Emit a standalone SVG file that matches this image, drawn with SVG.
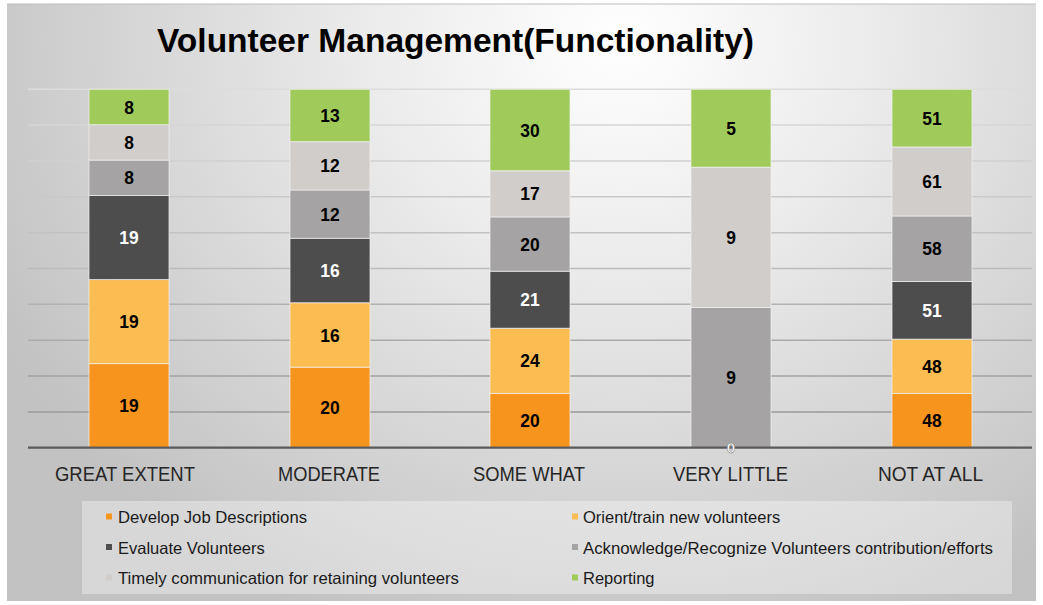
<svg xmlns="http://www.w3.org/2000/svg" width="1043" height="605" viewBox="0 0 1043 605">
<defs>
<radialGradient id="bg" cx="620" cy="40" r="700" gradientUnits="userSpaceOnUse" gradientTransform="translate(620 40) scale(1 0.9) translate(-620 -40)">
<stop offset="0" stop-color="#ffffff"/>
<stop offset="0.35" stop-color="#ececec"/>
<stop offset="1" stop-color="#c2c2c2"/>
</radialGradient>
</defs>
<style>
.title{font-family:"Liberation Sans",Arial,sans-serif;font-weight:bold;font-size:33px;fill:#000}
.cat{font-family:"Liberation Sans",Arial,sans-serif;font-size:20.5px;fill:#262626;text-anchor:middle}
.lbl{font-family:"Liberation Sans",Arial,sans-serif;font-weight:bold;font-size:18.5px;fill:#000;text-anchor:middle}
.lblw{font-family:"Liberation Sans",Arial,sans-serif;font-weight:bold;font-size:18.5px;fill:#fff;text-anchor:middle}
.leg{font-family:"Liberation Sans",Arial,sans-serif;font-size:16.5px;fill:#1a1a1a}
.seg{stroke:#f2f2f2;stroke-width:1;stroke-opacity:0.7}
.c1{fill:#f7941e}.c2{fill:#fbbc52}.c3{fill:#4d4d4d}.c4{fill:#a5a3a3}.c5{fill:#d1cdca}.c6{fill:#a0cb5a}
</style>
<rect x="7" y="4" width="1029" height="597" fill="url(#bg)"/>
<line x1="7" y1="4" x2="1036" y2="4" stroke="#bdbdbd" stroke-width="1"/>
<text class="title" x="157" y="52" textLength="597" lengthAdjust="spacingAndGlyphs">Volunteer Management(Functionality)</text>
<g id="gridlines" stroke-width="1.5">
<line x1="28" y1="89.3" x2="1032" y2="89.3" stroke="#dcdcdc"/>
<line x1="28" y1="125.1" x2="1032" y2="125.1" stroke="#d6d6d6"/>
<line x1="28" y1="161" x2="1032" y2="161" stroke="#d0d0d0"/>
<line x1="28" y1="196.8" x2="1032" y2="196.8" stroke="#c9c9c9"/>
<line x1="28" y1="232.7" x2="1032" y2="232.7" stroke="#c2c2c2"/>
<line x1="28" y1="268.5" x2="1032" y2="268.5" stroke="#bbbbbb"/>
<line x1="28" y1="304.3" x2="1032" y2="304.3" stroke="#b2b2b2"/>
<line x1="28" y1="340.2" x2="1032" y2="340.2" stroke="#aaaaaa"/>
<line x1="28" y1="376" x2="1032" y2="376" stroke="#a2a2a2"/>
<line x1="28" y1="411.9" x2="1032" y2="411.9" stroke="#9a9a9a"/>
</g>
<g id="bar-great-extent">
<rect class="seg c1" x="89" y="363.63" width="80" height="84.07"/>
<rect class="seg c2" x="89" y="279.56" width="80" height="84.07"/>
<rect class="seg c3" x="89" y="195.49" width="80" height="84.07"/>
<rect class="seg c4" x="89" y="160.09" width="80" height="35.4"/>
<rect class="seg c5" x="89" y="124.69" width="80" height="35.4"/>
<rect class="seg c6" x="89" y="89.3" width="80" height="35.39"/>
<text class="lbl" x="129" y="412.3" textLength="19.4" lengthAdjust="spacingAndGlyphs">19</text>
<text class="lbl" x="129" y="328.2" textLength="19.4" lengthAdjust="spacingAndGlyphs">19</text>
<text class="lblw" x="129" y="244.1" textLength="19.4" lengthAdjust="spacingAndGlyphs">19</text>
<text class="lbl" x="129" y="184.4" textLength="9.7" lengthAdjust="spacingAndGlyphs">8</text>
<text class="lbl" x="129" y="149" textLength="9.7" lengthAdjust="spacingAndGlyphs">8</text>
<text class="lbl" x="129" y="113.6" textLength="9.7" lengthAdjust="spacingAndGlyphs">8</text>
</g>
<g id="bar-moderate">
<rect class="seg c1" x="290" y="367.16" width="80" height="80.54"/>
<rect class="seg c2" x="290" y="302.73" width="80" height="64.43"/>
<rect class="seg c3" x="290" y="238.3" width="80" height="64.43"/>
<rect class="seg c4" x="290" y="189.98" width="80" height="48.32"/>
<rect class="seg c5" x="290" y="141.66" width="80" height="48.32"/>
<rect class="seg c6" x="290" y="89.3" width="80" height="52.36"/>
<text class="lbl" x="330" y="414" textLength="19.4" lengthAdjust="spacingAndGlyphs">20</text>
<text class="lbl" x="330" y="341.5" textLength="19.4" lengthAdjust="spacingAndGlyphs">16</text>
<text class="lblw" x="330" y="277.1" textLength="19.4" lengthAdjust="spacingAndGlyphs">16</text>
<text class="lbl" x="330" y="220.7" textLength="19.4" lengthAdjust="spacingAndGlyphs">12</text>
<text class="lbl" x="330" y="172.4" textLength="19.4" lengthAdjust="spacingAndGlyphs">12</text>
<text class="lbl" x="330" y="122.1" textLength="19.4" lengthAdjust="spacingAndGlyphs">13</text>
</g>
<g id="bar-some-what">
<rect class="seg c1" x="490" y="393.4" width="80" height="54.3"/>
<rect class="seg c2" x="490" y="328.24" width="80" height="65.16"/>
<rect class="seg c3" x="490" y="271.22" width="80" height="57.02"/>
<rect class="seg c4" x="490" y="216.92" width="80" height="54.3"/>
<rect class="seg c5" x="490" y="170.76" width="80" height="46.16"/>
<rect class="seg c6" x="490" y="89.3" width="80" height="81.46"/>
<text class="lbl" x="530" y="427.1" textLength="19.4" lengthAdjust="spacingAndGlyphs">20</text>
<text class="lbl" x="530" y="367.4" textLength="19.4" lengthAdjust="spacingAndGlyphs">24</text>
<text class="lblw" x="530" y="306.3" textLength="19.4" lengthAdjust="spacingAndGlyphs">21</text>
<text class="lbl" x="530" y="250.7" textLength="19.4" lengthAdjust="spacingAndGlyphs">20</text>
<text class="lbl" x="530" y="200.4" textLength="19.4" lengthAdjust="spacingAndGlyphs">17</text>
<text class="lbl" x="530" y="136.6" textLength="19.4" lengthAdjust="spacingAndGlyphs">30</text>
</g>
<g id="bar-very-little">
<rect class="seg c4" x="691" y="307.45" width="80" height="140.25"/>
<rect class="seg c5" x="691" y="167.2" width="80" height="140.25"/>
<rect class="seg c6" x="691" y="89.3" width="80" height="77.9"/>
<text class="lbl" x="731" y="384.2" textLength="9.7" lengthAdjust="spacingAndGlyphs">9</text>
<text class="lbl" x="731" y="243.9" textLength="9.7" lengthAdjust="spacingAndGlyphs">9</text>
<text class="lbl" x="731" y="134.8" textLength="9.7" lengthAdjust="spacingAndGlyphs">5</text>
</g>
<g id="bar-not-at-all">
<rect class="seg c1" x="892" y="393.43" width="80" height="54.27"/>
<rect class="seg c2" x="892" y="339.16" width="80" height="54.27"/>
<rect class="seg c3" x="892" y="281.5" width="80" height="57.66"/>
<rect class="seg c4" x="892" y="215.93" width="80" height="65.57"/>
<rect class="seg c5" x="892" y="146.96" width="80" height="68.97"/>
<rect class="seg c6" x="892" y="89.3" width="80" height="57.66"/>
<text class="lbl" x="932" y="427.2" textLength="19.4" lengthAdjust="spacingAndGlyphs">48</text>
<text class="lbl" x="932" y="372.9" textLength="19.4" lengthAdjust="spacingAndGlyphs">48</text>
<text class="lblw" x="932" y="316.9" textLength="19.4" lengthAdjust="spacingAndGlyphs">51</text>
<text class="lbl" x="932" y="255.3" textLength="19.4" lengthAdjust="spacingAndGlyphs">58</text>
<text class="lbl" x="932" y="188" textLength="19.4" lengthAdjust="spacingAndGlyphs">61</text>
<text class="lbl" x="932" y="124.7" textLength="19.4" lengthAdjust="spacingAndGlyphs">51</text>
</g>
<g id="axis">
<line x1="28" y1="447.7" x2="1032" y2="447.7" stroke="#5a5a5a" stroke-width="2.2"/>
</g>
<text class="lblw" x="731" y="452.5" style="font-size:15px" stroke="#7a7a7a" stroke-width="0.5">0</text>
<g id="categories">
<text class="cat" x="125" y="481" textLength="140" lengthAdjust="spacingAndGlyphs">GREAT EXTENT</text>
<text class="cat" x="329" y="481" textLength="102" lengthAdjust="spacingAndGlyphs">MODERATE</text>
<text class="cat" x="529" y="481" textLength="112" lengthAdjust="spacingAndGlyphs">SOME WHAT</text>
<text class="cat" x="730.5" y="481" textLength="115" lengthAdjust="spacingAndGlyphs">VERY LITTLE</text>
<text class="cat" x="930.5" y="481" textLength="105" lengthAdjust="spacingAndGlyphs">NOT AT ALL</text>
</g>
<g id="legend">
<rect x="82" y="501" width="930" height="93" fill="#ffffff" fill-opacity="0.35"/>
<g id="legend-develop"><rect class="c1" x="106" y="513.5" width="6" height="6"/><text class="leg" x="118" y="523" textLength="189" lengthAdjust="spacingAndGlyphs">Develop Job Descriptions</text></g>
<g id="legend-evaluate"><rect class="c3" x="106" y="544" width="6" height="6"/><text class="leg" x="118" y="553.5">Evaluate Volunteers</text></g>
<g id="legend-timely"><rect class="c5" x="106" y="574.5" width="6" height="6"/><text class="leg" x="118" y="584" textLength="341" lengthAdjust="spacingAndGlyphs">Timely communication for retaining volunteers</text></g>
<g id="legend-orient"><rect class="c2" x="572" y="513.5" width="6" height="6"/><text class="leg" x="583" y="523">Orient/train new volunteers</text></g>
<g id="legend-acknowledge"><rect class="c4" x="572" y="544" width="6" height="6"/><text class="leg" x="583" y="553.5" textLength="410" lengthAdjust="spacingAndGlyphs">Acknowledge/Recognize Volunteers contribution/efforts</text></g>
<g id="legend-reporting"><rect class="c6" x="572" y="574.5" width="6" height="6"/><text class="leg" x="583" y="584">Reporting</text></g>
</g>
</svg>
